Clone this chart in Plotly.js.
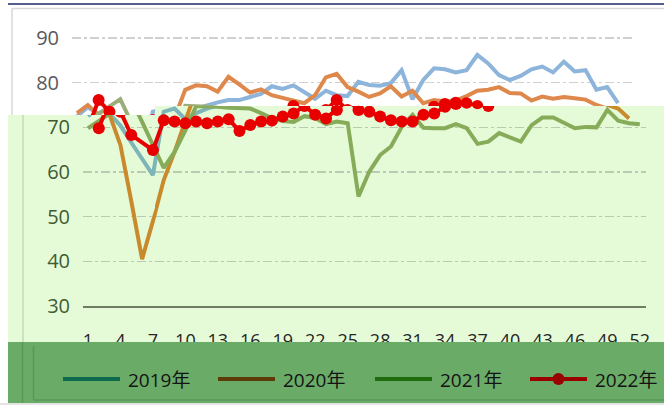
<!DOCTYPE html>
<html><head><meta charset="utf-8">
<script src="https://cdn.plot.ly/plotly-3.0.1.min.js"></script>
<style>html,body{margin:0;padding:0;background:#fff}#chart{width:664px;height:405px}</style>
</head><body><div id="chart"></div>
<script>
// ---- data ----
const weeks = [1,2,3,4,5,6,7,8,9,10,11,12,13,14,15,16,17,18,19,20,21,22,23,24,25,26,27,28,29,30,31,32,33,34,35,36,37,38,39,40,41,42,43,44,45,46,47,48,49,50,51,52];
const tickWeeks = [1,4,7,10,13,16,19,22,25,28,31,34,37,40,43,46,49,52];
const tickLabels = ['1','4','7','10','13','16','19','22','25','28','31','34','37','40','43','46','49','52'];
const yTicks = [30,40,50,60,70,80,90];
const seriesNames = ['2019年','2020年','2021年','2022年'];
const s2019 = [72.5,74.5,73,70.4,66.6,62.9,59.3,73.5,74.2,71.8,73.2,74.2,75,75.6,76.1,76.1,76.8,77.5,79.2,78.6,79.4,78,76.4,78.2,77.2,77,80.2,79.5,79.3,79.9,82.8,76.3,80.6,83.2,83,82.3,82.8,86.2,84.3,81.7,80.6,81.5,83,83.6,82.3,84.7,82.5,82.8,78.4,79,75.4];
const s2020 = [73.2,75,72.8,66,53.5,40.5,49,58.2,64.5,72,78.4,79.4,79.2,78,81.3,79.6,77.8,78.5,77.2,76.6,76.1,75.4,77.2,81.2,82,79,78,76.8,77.6,79.2,76.9,78.2,75.4,76.1,75.8,76,77,78.2,78.4,79,77.7,77.6,76,76.9,76.4,76.8,76.5,76.2,75,74.2,72];
const s2021 = [69.8,71.4,73,74.7,76.3,71.2,66,60.9,64.5,69.3,74.8,74.8,74.6,74.4,74.3,74.2,73.2,72,71.4,71.2,72.5,72.1,70.7,71.3,70.9,54.5,60.1,63.8,65.7,70.1,72.8,69.9,69.8,69.8,70.7,69.8,66.3,66.8,68.7,67.8,66.8,70.5,72.2,72.2,71,69.8,70.1,70,73.9,71.5,70.9,70.7];
const s2022 = [null,69.8,76.1,73.5,68.3,null,64.9,71.6,71.3,70.9,71.3,70.9,71.3,71.8,69.2,70.5,71.3,71.5,72.4,73.1,74.8,72.8,72,73.9,76.1,73.9,73.5,72.4,71.6,71.3,71.3,72.8,73.1,74.6,75.2,75.5,75.4,74.8];

// ---- geometry helpers (pixel layout of the picture) ----
const W = 664, H = 405;
const fx = p => p / W, fy = p => 1 - p / H;
const AXIS_Y = 306, PPU = 268 / 60, W1X = 77, STEP = 10.82;
const val = p => 30 + (AXIS_Y - p) / PPU;      // pixel row -> value
const wk = p => 1 + (p - W1X) / STEP;          // pixel column -> week

// the tinted band of the picture shows its content moved 11px right
const panels = [
  {id: '',  xd: [72, 155],  xr: [72, 155],  yd: [16, 115],  lower: false, ylab: true},
  {id: '2', xd: [155, 635], xr: [155, 635], yd: [16, 106],  lower: false, ylab: false},
  {id: '3', xd: [83, 155],  xr: [72, 144],  yd: [115, 306], lower: true,  ylab: true},
  {id: '4', xd: [155, 646], xr: [144, 635], yd: [106, 306], lower: true,  ylab: false}
];

const series = [
  {data: s2019, up: '#8db4da', low: '#7db5b8'},
  {data: s2020, up: '#df884c', low: '#c98a2c'},
  {data: s2021, up: '#9cad78', low: '#86ab59'},
  {data: s2022, up: '#e80000', low: '#e80000', markers: true}
];
const legendColors = ['#0e6a4c', '#5c3b08', '#1f6b0e', '#9a0000'];

const traces = [];
const layout = {
  width: W, height: H,
  margin: {l: 0, r: 0, t: 0, b: 0},
  paper_bgcolor: '#ffffff', plot_bgcolor: 'rgba(0,0,0,0)',
  font: {family: 'Open Sans, Noto Sans CJK SC, sans-serif'},
  showlegend: false,
  shapes: [], annotations: []
};

panels.forEach(p => {
  const xa = 'xaxis' + p.id, ya = 'yaxis' + p.id;
  layout[xa] = {
    domain: [fx(p.xd[0]), fx(p.xd[1])],
    range: [wk(p.xr[0]), wk(p.xr[1])],
    anchor: 'y' + p.id, showgrid: false, zeroline: false, ticks: '',
    showticklabels: p.lower, tickmode: 'array', tickvals: tickWeeks, ticktext: tickLabels,
    tickfont: {size: 18, color: '#262626', family: 'Open Sans'},
    ticklabelstandoff: 18,
    showline: p.lower, linecolor: '#6f7d62', linewidth: 1.5, mirror: false,
    fixedrange: true
  };
  layout[ya] = {
    domain: [fy(p.yd[1]), fy(p.yd[0])],
    range: [val(p.yd[1]), val(p.yd[0])],
    anchor: 'x' + p.id, zeroline: false, ticks: '',
    tickmode: 'array', tickvals: yTicks,
    showgrid: true, griddash: 'dashdot', gridwidth: 1.3,
    gridcolor: p.lower ? '#b9cbb0' : '#d0d0d0',
    showticklabels: p.ylab,
    tickfont: {size: 20, color: p.lower ? '#3f5c33' : '#595959', family: 'Open Sans'},
    ticklabelstandoff: 12,
    showline: false, fixedrange: true
  };
  series.forEach((s, i) => {
    const t = {
      type: 'scatter', name: seriesNames[i],
      x: weeks.slice(0, s.data.length), y: s.data,
      xaxis: 'x' + p.id, yaxis: 'y' + p.id,
      mode: s.markers ? 'lines+markers' : 'lines',
      line: {color: p.lower ? s.low : s.up, width: 4},
      connectgaps: true, hoverinfo: 'skip', showlegend: false, cliponaxis: true
    };
    if (s.markers) t.marker = {size: 12, color: s.up, line: {width: 0}};
    traces.push(t);
  });
});

// background bands and frame
const P = (x, y) => fx(x).toFixed(5) + ',' + fy(y).toFixed(5);
layout.shapes.push({type: 'path', xref: 'paper', yref: 'paper', layer: 'below',
  path: 'M' + P(8,115) + 'L' + P(155,115) + 'L' + P(155,106) + 'L' + P(664,106) + 'L' + P(664,342) + 'L' + P(8,342) + 'Z',
  fillcolor: '#e5fbd8', line: {width: 0}});
const lineShape = (x0, y0, x1, y1, color, width, layer) => ({type: 'line', xref: 'paper', yref: 'paper',
  x0: fx(x0), y0: fy(y0), x1: fx(x1), y1: fy(y1), line: {color: color, width: width}, layer: layer || 'above'});
layout.shapes.push(lineShape(8, 4, 664, 4, '#1c2a66', 1.6));
layout.shapes.push(lineShape(12, 8.5, 664, 8.5, '#d9d9d9', 1.5));
layout.shapes.push(lineShape(12, 8.5, 12, 115, '#d9d9d9', 1.5));
layout.shapes.push(lineShape(23, 115, 23, 342, '#c4dab6', 1.5));
// legend band
layout.shapes.push({type: 'rect', xref: 'paper', yref: 'paper', layer: 'above',
  x0: fx(8), x1: fx(664), y0: fy(403), y1: fy(342), fillcolor: '#6aab68', line: {width: 0}});
layout.shapes.push({type: 'rect', xref: 'paper', yref: 'paper', layer: 'above',
  x0: fx(0), x1: fx(664), y0: fy(405), y1: fy(403), fillcolor: '#e4e4e4', line: {width: 0}});
layout.shapes.push(lineShape(22.5, 342, 22.5, 403, '#58995a', 1.5));
layout.shapes.push(lineShape(33.5, 346, 33.5, 400, '#58995a', 1.5));
layout.shapes.push(lineShape(33.5, 400, 664, 400, '#58995a', 1.5));

// legend entries
const legX = [63, 218, 375, 530];
seriesNames.forEach((n, i) => {
  layout.shapes.push(lineShape(legX[i], 379, legX[i] + 57, 379, legendColors[i], 4));
  if (i === 3) {
    layout.shapes.push({type: 'circle', xref: 'paper', yref: 'paper', layer: 'above',
      x0: fx(legX[i] + 22.5), x1: fx(legX[i] + 34.5), y0: fy(385), y1: fy(373),
      fillcolor: legendColors[i], line: {width: 0}});
  }
  layout.annotations.push({text: n, xref: 'paper', yref: 'paper', x: fx(legX[i] + 63), y: fy(380),
    xanchor: 'left', yanchor: 'middle', showarrow: false,
    font: {size: 19, color: '#141414', family: 'Open Sans, Noto Sans CJK SC, sans-serif'}});
});

Plotly.newPlot('chart', traces, layout, {staticPlot: true, displayModeBar: false});
</script>
</body></html>
